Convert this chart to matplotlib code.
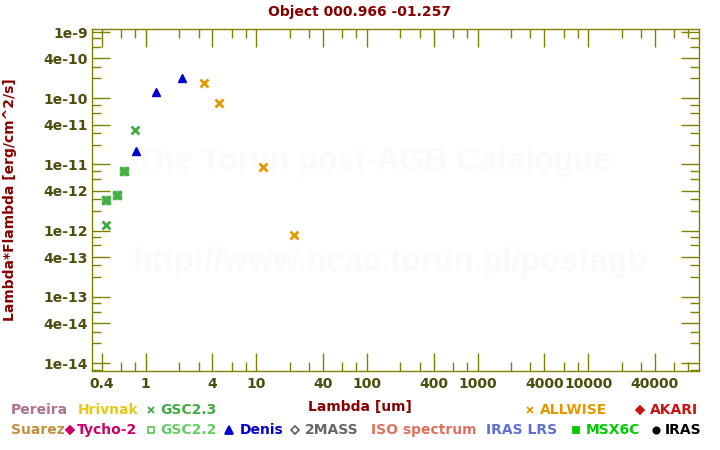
import matplotlib
matplotlib.use("Agg")
import matplotlib.pyplot as plt
from matplotlib.ticker import FixedLocator, FixedFormatter, NullFormatter

# photometry (wavelength in um, lambda*F_lambda in erg/cm^2/s)
denis_lam = [0.817, 1.24, 2.13]
denis_flux = [1.62e-11, 1.26e-10, 2.0e-10]
allwise_lam = [3.38, 4.62, 11.5, 22.0]
allwise_flux = [1.69e-10, 8.4e-11, 9.1e-12, 8.5e-13]
gsc23_lam = [0.805, 0.441, 0.641, 0.554, 0.441]
gsc23_flux = [3.29e-11, 1.21e-12, 7.9e-12, 3.43e-12, 2.88e-12]
gsc22_lam = [0.641, 0.554, 0.441]
gsc22_flux = [7.9e-12, 3.43e-12, 2.88e-12]

x_major = [0.4, 1, 4, 10, 40, 100, 400, 1000, 4000, 10000, 40000]
x_labels = ["0.4", "1", "4", "10", "40", "100", "400", "1000", "4000", "10000", "40000"]
y_major = [1e-14, 4e-14, 1e-13, 4e-13, 1e-12, 4e-12, 1e-11, 4e-11, 1e-10, 4e-10, 1e-9]
y_labels = ["1e-14", "4e-14", "1e-13", "4e-13", "1e-12", "4e-12",
            "1e-11", "4e-11", "1e-10", "4e-10", "1e-9"]

AXC = "#808000"
TXC = "#4d4d0d"
RED = "#880000"
W, H = 720, 450

plt.rcParams["font.family"] = ["DejaVu Sans"]
plt.rcParams["font.weight"] = "bold"

fig = plt.figure(figsize=(W / 100, H / 100), dpi=100)
ax = fig.add_axes([92 / W, 1 - 371 / H, 607 / W, 342 / H])
ax.set_xscale("log")
ax.set_yscale("log")
ax.set_xlim(0.327, 1e5)
ax.set_ylim(7.6e-15, 1.11e-9)

# minor ticks at 2,3,6,8 in every decade
x_minor = [m * 10.0 ** k for k in range(-1, 5) for m in (2, 3, 6, 8)]
x_minor = [v for v in x_minor if 0.327 < v < 1e5]
y_minor = [m * 10.0 ** k for k in range(-15, -9) for m in (2, 3, 6, 8)]
y_minor = [v for v in y_minor if 7.6e-15 < v < 1.11e-9]
ax.xaxis.set_major_locator(FixedLocator(x_major))
ax.xaxis.set_major_formatter(FixedFormatter(x_labels))
ax.xaxis.set_minor_locator(FixedLocator(x_minor))
ax.xaxis.set_minor_formatter(NullFormatter())
ax.yaxis.set_major_locator(FixedLocator(y_major))
ax.yaxis.set_major_formatter(FixedFormatter(y_labels))
ax.yaxis.set_minor_locator(FixedLocator(y_minor))
ax.yaxis.set_minor_formatter(NullFormatter())

ax.tick_params(which="both", direction="in", top=True, right=True, color=AXC, width=1)
ax.tick_params(which="major", length=13, labelsize=10, labelcolor=TXC)
ax.tick_params(which="minor", length=6.5)
ax.tick_params(axis="x", which="major", pad=4)
ax.tick_params(axis="y", which="major", pad=3)
for lab in ax.get_xticklabels() + ax.get_yticklabels():
    lab.set_fontweight("bold")
for s in ax.spines.values():
    s.set_color(AXC)
    s.set_linewidth(1)

# faint watermark
ax.text(0.462, 1 - (162 - 29) / 342, "The Torun post-AGB Catalogue", transform=ax.transAxes,
        ha="center", va="center", fontsize=23, family="Liberation Sans",
        fontweight="bold", color="#fcfaf8", zorder=0)
ax.text(0.492, 1 - (262 - 29) / 342, "http://www.ncac.torun.pl/postagb", transform=ax.transAxes,
        ha="center", va="center", fontsize=23.5, family="Liberation Sans",
        fontweight="bold", color="#fcfaf8", zorder=0)

ax.plot(gsc22_lam, gsc22_flux, "s", ms=6, color="#5cbf5c", mec="#5cbf5c", zorder=3)
ax.plot(gsc23_lam, gsc23_flux, "x", ms=5.5, mew=2, color="#44aa44", zorder=4)
ax.plot(denis_lam, denis_flux, "^", ms=6, color="#0000cc", mec="#0000cc", zorder=4)
ax.plot(allwise_lam, allwise_flux, "x", ms=5.5, mew=2, color="#e09a00", zorder=4)

fig.text(360 / W, 1 - 12 / H, "Object 000.966 -01.257", ha="center", va="center",
         fontsize=10, fontweight="bold", color=RED)
fig.text(360 / W, 1 - 407 / H, "Lambda [um]", ha="center", va="center",
         fontsize=10, fontweight="bold", color=RED)
fig.text(10 / W, 1 - 200 / H, "Lambda*Flambda [erg/cm^2/s]", ha="center", va="center",
         rotation=90, fontsize=10, fontweight="bold", color=RED)

# catalogue key below the plot: (marker x, text x, row y, label, colour, marker)
key = [
    (None, 11, 410, "Pereira", "#b07090", None),
    (None, 78, 410, "Hrivnak", "#e6c818", None),
    (150.7, 160, 410, "GSC2.3", "#44aa44", "x"),
    (530, 540, 410, "ALLWISE", "#e09a00", "x"),
    (640, 650, 410, "AKARI", "#cc1111", "D"),
    (None, 11, 430, "Suarez", "#c09040", None),
    (70, 77, 430, "Tycho-2", "#cc0066", "D"),
    (150.7, 160, 430, "GSC2.2", "#66cc66", "s_open"),
    (229, 240, 430, "Denis", "#0000cc", "^"),
    (295, 305, 430, "2MASS", "#666666", "D_open"),
    (None, 370.7, 430, "ISO spectrum", "#e07060", None),
    (None, 486, 430, "IRAS LRS", "#6070d0", None),
    (576, 586, 430, "MSX6C", "#00cc00", "s"),
    (656, 665, 430, "IRAS", "#000000", "o"),
]
for mx, tx, ty, label, col, mk in key:
    fig.text(tx / W, 1 - ty / H, label, ha="left", va="center",
             fontsize=10, fontweight="bold", color=col)
    if mk is None:
        continue
    face = col
    if mk.endswith("_open"):
        mk = mk[:-5]
        face = "white"
    ms = {"x": 5, "D": 4.5, "s": 4.5, "^": 5.5, "o": 4.5}[mk]
    fig.add_artist(plt.Line2D([mx / W], [1 - ty / H], marker=mk, ms=ms, mew=1.3,
                              color=col, mfc=face, mec=col, linestyle="none",
                              transform=fig.transFigure))

fig.savefig("out.png", dpi=100)
